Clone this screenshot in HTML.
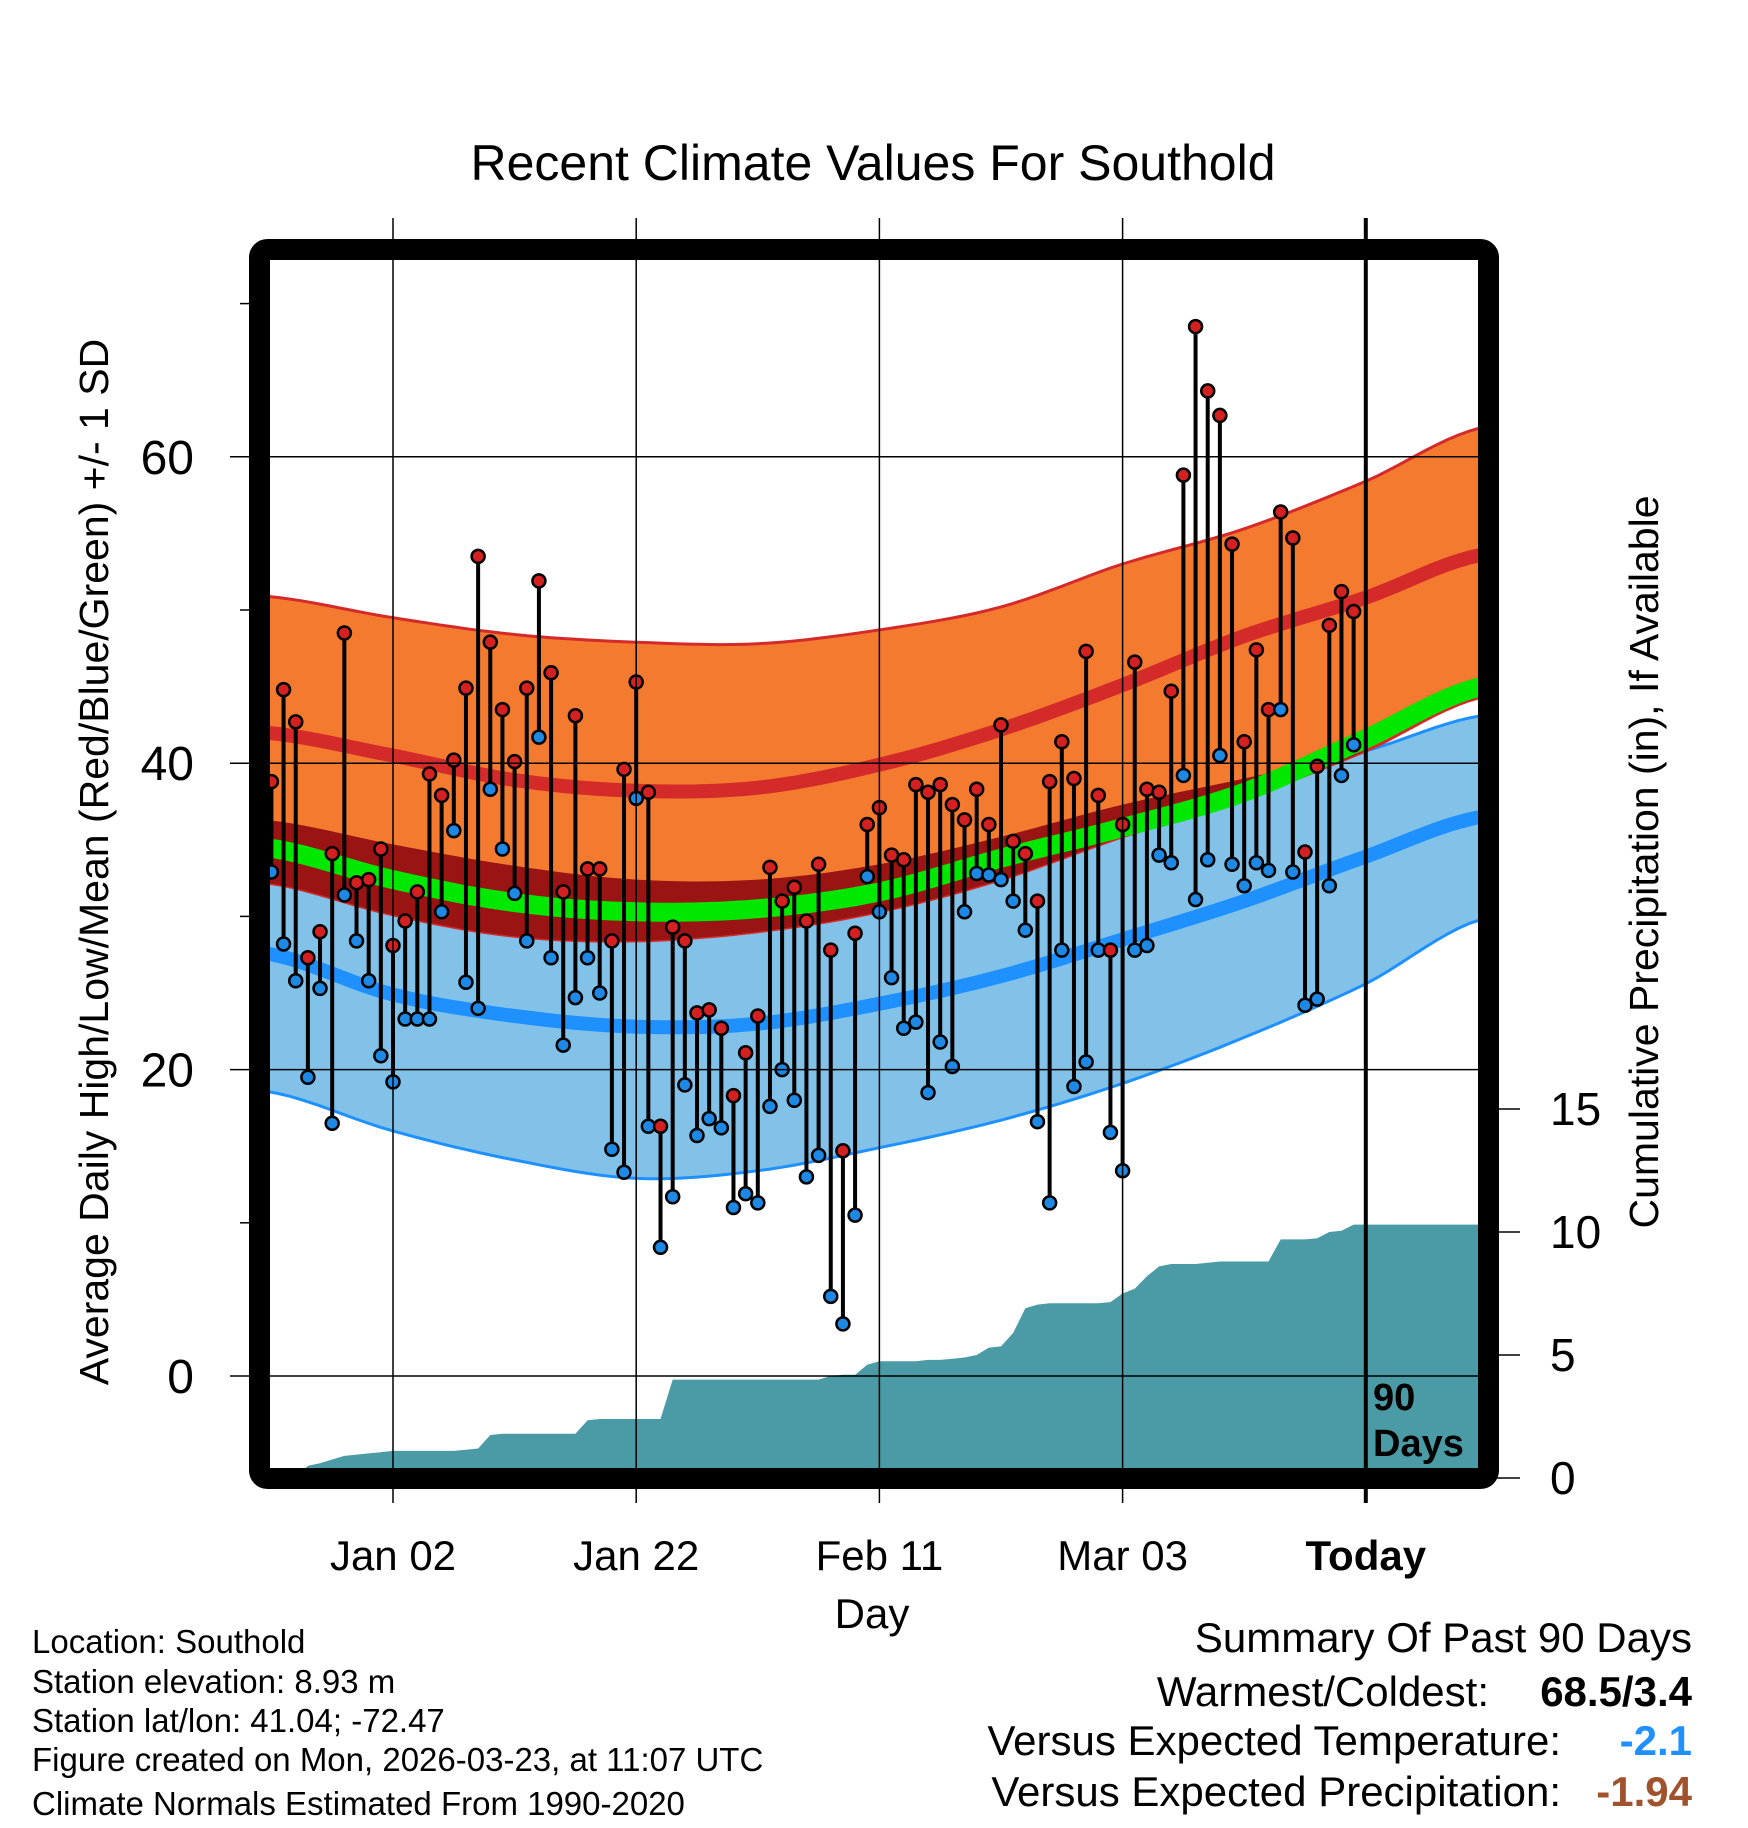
<!DOCTYPE html>
<html><head><meta charset="utf-8">
<style>
html,body{margin:0;padding:0;background:#fff;}
svg{display:block;font-family:"Liberation Sans",Arial,sans-serif;}
</style></head>
<body>
<svg id="chart" width="1748" height="1828" viewBox="0 0 1748 1828" xmlns="http://www.w3.org/2000/svg">
<defs>
<clipPath id="plotClip"><rect x="270" y="260" width="1208" height="1208"/></clipPath>
</defs>
<text x="873" y="180" font-size="50" text-anchor="middle">Recent Climate Values For Southold</text>
<g id="plot" clip-path="url(#plotClip)"></g>
<g id="axes"></g>
<text transform="translate(108,862) rotate(-90)" font-size="41" text-anchor="middle">Average Daily High/Low/Mean (Red/Blue/Green) +/- 1 SD</text>
<text transform="translate(1658,862) rotate(-90)" font-size="41" text-anchor="middle">Cumulative Precipitation (in), If Available</text>
<text x="872" y="1628" font-size="42" text-anchor="middle">Day</text>
<text x="1373" y="1410" font-size="38" font-weight="bold">90</text>
<text x="1373" y="1456" font-size="38" font-weight="bold">Days</text>
<g font-size="33">
<text x="32" y="1653">Location: Southold</text>
<text x="32" y="1693">Station elevation: 8.93 m</text>
<text x="32" y="1732">Station lat/lon: 41.04; -72.47</text>
<text x="32" y="1771">Figure created on Mon, 2026-03-23, at 11:07 UTC</text>
<text x="32" y="1815">Climate Normals Estimated From 1990-2020</text>
</g>
<g font-size="42">
<text x="1692" y="1652" text-anchor="end">Summary Of Past 90 Days</text>
<text x="1489" y="1706" text-anchor="end">Warmest/Coldest:</text>
<text x="1692" y="1706" text-anchor="end" font-weight="bold">68.5/3.4</text>
<text x="1561" y="1755" text-anchor="end">Versus Expected Temperature:</text>
<text x="1692" y="1755" text-anchor="end" font-weight="bold" fill="#1E90FF">-2.1</text>
<text x="1561" y="1806" text-anchor="end">Versus Expected Precipitation:</text>
<text x="1692" y="1806" text-anchor="end" font-weight="bold" fill="#A0522D">-1.94</text>
</g>
<rect x="259.5" y="249.5" width="1229" height="1229" rx="8" fill="none" stroke="#000" stroke-width="21"/>
</svg>
<script>
const highs=[38.8,44.8,42.7,27.3,29.0,34.1,48.5,32.2,32.4,34.4,28.1,29.7,31.6,39.3,37.9,40.2,44.9,53.5,47.9,43.5,40.1,44.9,51.9,45.9,31.6,43.1,33.1,33.1,28.4,39.6,45.3,38.1,16.3,29.3,28.4,23.7,23.9,22.7,18.3,21.1,23.5,33.2,31.0,31.9,29.7,33.4,27.8,14.7,28.9,36.0,37.1,34.0,33.7,38.6,38.1,38.6,37.3,36.3,38.3,36.0,42.5,34.9,34.1,31.0,38.8,41.4,39.0,47.3,37.9,27.8,36.0,46.6,38.3,38.1,44.7,58.8,68.5,64.3,62.7,54.3,41.4,47.4,43.5,56.4,54.7,34.2,39.8,49.0,51.2,49.9];
const lows=[32.9,28.2,25.8,19.5,25.3,16.5,31.4,28.4,25.8,20.9,19.2,23.3,23.3,23.3,30.3,35.6,25.7,24.0,38.3,34.4,31.5,28.4,41.7,27.3,21.6,24.7,27.3,25.0,14.8,13.3,37.7,16.3,8.4,11.7,19.0,15.7,16.8,16.2,11.0,11.9,11.3,17.6,20.0,18.0,13.0,14.4,5.2,3.4,10.5,32.6,30.3,26.0,22.7,23.1,18.5,21.8,20.2,30.3,32.8,32.7,32.4,31.0,29.1,16.6,11.3,27.8,18.9,20.5,27.8,15.9,13.4,27.8,28.1,34.0,33.5,39.2,31.1,33.7,40.5,33.4,32.0,33.5,33.0,43.5,32.9,24.2,24.6,32.0,39.2,41.2];
const precip=[0,0,0,0.5,0.6,0.75,0.9,0.95,1.0,1.05,1.1,1.1,1.1,1.1,1.1,1.1,1.15,1.2,1.75,1.8,1.8,1.8,1.8,1.8,1.8,1.8,2.35,2.4,2.4,2.4,2.4,2.4,2.4,4.0,4.0,4.0,4.0,4.0,4.0,4.0,4.0,4.0,4.0,4.0,4.0,4.0,4.15,4.2,4.2,4.6,4.75,4.75,4.75,4.75,4.8,4.8,4.85,4.9,5.0,5.3,5.35,5.9,6.9,7.05,7.1,7.1,7.1,7.1,7.1,7.15,7.5,7.7,8.2,8.6,8.7,8.7,8.7,8.75,8.8,8.8,8.8,8.8,8.8,9.7,9.7,9.7,9.75,10.0,10.05,10.3];
const normDays=[-0.5,10,20,30,40,50,60,70,80,90,99.5];
const highUpper=[50.9,49.5,48.4,47.9,47.8,48.7,50.2,53.0,55.3,58.4,61.9];
const highMean=[42.0,40.5,38.9,38.2,38.4,39.9,42.2,45.1,48.3,50.8,53.6];
const highLower=[32.2,30.1,28.7,28.4,29.0,30.3,32.4,35.2,37.7,40.8,44.3];
const meanTemp=[34.5,32.4,30.9,30.3,30.5,31.6,33.8,35.8,38.1,41.6,45.0];
const lowUpper=[36.3,34.7,33.3,32.4,32.4,33.4,35.2,37.3,39.0,40.8,43.1];
const lowMean=[27.6,24.9,23.5,22.8,23.0,24.3,26.1,28.5,31.0,33.9,36.5];
const lowLower=[18.6,16.0,14.1,12.9,13.4,14.9,16.7,19.1,22.1,25.6,29.8];
const xTickDays=[10,30,50,70,90];
const xTickLabels=["Jan 02","Jan 22","Feb 11","Mar 03","Today"];
const yTicks=[0,20,40,60];
const yMinor=[10,30,50,70];
const pTicks=[0,5,10,15];

const NS="http://www.w3.org/2000/svg";
const X=d=>271.4+d*12.16;
const Y=t=>1376-t*15.32;
const P=p=>1478-p*24.6;
const plot=document.getElementById('plot');
const axes=document.getElementById('axes');
function mk(tag,attrs,parent){const e=document.createElementNS(NS,tag);for(const k in attrs)e.setAttribute(k,attrs[k]);parent.appendChild(e);return e;}
// smooth (Catmull-Rom) sampling of a normal curve
function smooth(arr){
  const out=[];const n=normDays.length;
  for(let i=0;i<n-1;i++){
    const p0=arr[Math.max(i-1,0)],p1=arr[i],p2=arr[i+1],p3=arr[Math.min(i+2,n-1)];
    const d0=normDays[i],d1=normDays[i+1];
    for(let s=0;s<10;s++){
      const t=s/10;
      const v=0.5*((2*p1)+(-p0+p2)*t+(2*p0-5*p1+4*p2-p3)*t*t+(-p0+3*p1-3*p2+p3)*t*t*t);
      out.push([X(d0+(d1-d0)*t),Y(v)]);
    }
  }
  out.push([X(normDays[n-1]),Y(arr[n-1])]);
  return out;
}
function line(arr){return smooth(arr).map(p=>p[0].toFixed(1)+','+p[1].toFixed(1)).join(' ');}
function band(up,lo){return line(up)+' '+smooth(lo).reverse().map(p=>p[0].toFixed(1)+','+p[1].toFixed(1)).join(' ');}

let pts=precip.map((p,i)=>X(i).toFixed(1)+','+P(p).toFixed(1));
pts.push(X(99.5)+','+P(precip[precip.length-1]));
let pa=mk('polygon',{points:X(0)+','+P(0)+' '+pts.join(' ')+' '+X(99.5)+','+P(0),fill:'#4A9BA5'},plot);



let bb=mk('polygon',{points:band(lowUpper,lowLower),fill:'#82C2E8',stroke:'#1E90FF','stroke-width':3},plot);


let ob=mk('polygon',{points:band(highUpper,highLower),fill:'#F47A30',stroke:'#D42A2A','stroke-width':3},plot);


const cp=mk('clipPath',{id:'lowClip'},document.querySelector('defs'));
mk('polygon',{points:band(lowUpper,lowLower)},cp);
let ov=mk('polygon',{points:band(highUpper,highLower),fill:'#9B1414','clip-path':'url(#lowClip)'},plot);


let gl=mk('polyline',{points:line(meanTemp),fill:'none',stroke:'#00E800','stroke-width':19},plot);


let rl=mk('polyline',{points:line(highMean),fill:'none',stroke:'#D42A2A','stroke-width':14},plot);


let bl=mk('polyline',{points:line(lowMean),fill:'none',stroke:'#1E90FF','stroke-width':14},plot);



yTicks.forEach(t=>{
  let g=mk('line',{x1:230,x2:1478,y1:Y(t),y2:Y(t),stroke:'#000','stroke-width':1.5},axes);
  
  
  let tx=mk('text',{x:194,y:Y(t)+17,'font-size':48,'text-anchor':'end'},axes);
  tx.textContent=t;
  
  
});
yMinor.forEach(t=>{mk('line',{x1:240,x2:249,y1:Y(t),y2:Y(t),stroke:'#000','stroke-width':1.5},axes);});
xTickDays.forEach((d,i)=>{
  let g=mk('line',{x1:X(d),x2:X(d),y1:218,y2:1503,stroke:'#000','stroke-width':i==4?4:1.5},axes);
  
  
  let tx=mk('text',{x:X(d),y:1570,'font-size':42,'text-anchor':'middle','font-weight':i==4?'bold':'normal'},axes);
  tx.textContent=xTickLabels[i];
  
  
});
pTicks.forEach(p=>{
  mk('line',{x1:1488,x2:1520,y1:P(p),y2:P(p),stroke:'#000','stroke-width':1.5},axes);
  let tx=mk('text',{x:1550,y:P(p)+16,'font-size':46},axes);
  tx.textContent=p;
  
  
});
highs.forEach((h,i)=>{
  let s=mk('line',{x1:X(i),x2:X(i),y1:Y(h),y2:Y(lows[i]),stroke:'#000','stroke-width':4},plot);
  
  
});
highs.forEach((h,i)=>{
  let c1=mk('circle',{cx:X(i),cy:Y(h),r:6.5,fill:'#D42020',stroke:'#000','stroke-width':2.5},plot);
  
  
  let c2=mk('circle',{cx:X(i),cy:Y(lows[i]),r:6.5,fill:'#1E88E5',stroke:'#000','stroke-width':2.5},plot);
  
  
});
</script>
</body></html>
